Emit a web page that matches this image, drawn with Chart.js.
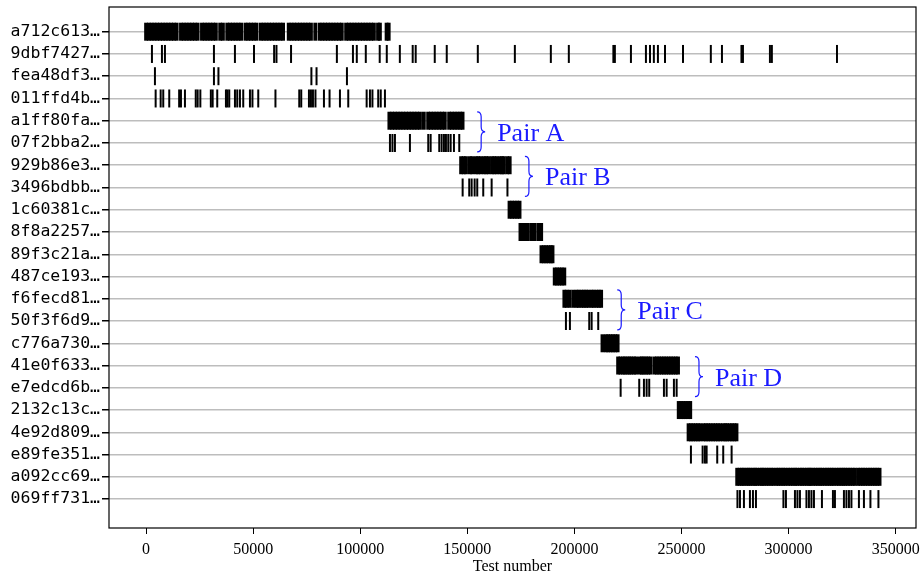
<!DOCTYPE html>
<html>
<head>
<meta charset="utf-8">
<script src="https://cdn.jsdelivr.net/npm/chart.js@4.4.1/dist/chart.umd.min.js"></script>
<style>
  body { margin: 0; background: #fff; }
</style>
</head>
<body>
<canvas id="chart" width="921" height="575"></canvas>
<script>
const rowLabels = ["a712c613…", "9dbf7427…", "fea48df3…", "011ffd4b…", "a1ff80fa…", "07f2bba2…",
    "929b86e3…", "3496bdbb…", "1c60381c…", "8f8a2257…", "89f3c21a…", "487ce193…", "f6fecd81…",
    "50f3f6d9…", "c776a730…", "41e0f633…", "e7edcd6b…", "2132c13c…", "4e92d809…", "e89fe351…",
    "a092cc69…", "069ff731…"];

const ev_a712c613 = [0, 1300, 2600, 3900, 5200, 6500, 7800, 9100, 10400, 11700, 13000, 14300, 16300, 17600,
    18900, 20200, 21500, 22800, 24100, 26100, 27400, 28700, 30000, 31300, 32600, 34600, 35900, 37900, 39200,
    40500, 41800, 43100, 44400, 46400, 47700, 49000, 50300, 51600, 53600, 54900, 56200, 57500, 58800, 60100,
    61400, 62700, 64000, 66600, 67900, 69200, 70500, 71800, 73100, 74400, 75700, 77000, 79000, 81000, 82300,
    83600, 84900, 86200, 87500, 88800, 90100, 91400, 93400, 94700, 96000, 97300, 98600, 99900, 101200,
    102500, 103800, 105100, 106400, 108300, 109200, 112300, 113300];
const ev_9dbf7427 = [2750, 7420, 8820, 31700, 41500, 50400, 59800, 60900, 67700, 89100, 96600, 98400, 102600,
    109100, 112400, 118500, 124500, 125900, 134800, 140400, 154900, 172200, 189000, 197400, 218200, 218900,
    226400, 233400, 235300, 237100, 239000, 242300, 250700, 263700, 268900, 278000, 278700, 291300, 292200,
    322600];
const ev_fea48df3 = [4150, 31700, 33800, 77200, 79600, 93800];
const ev_011ffd4b = [4480, 6820, 8030, 10830, 15450, 16300, 18160, 23200, 24090, 25350, 30250, 31100, 33240,
    37300, 38000, 38850, 41510, 42580, 43840, 45380, 48510, 49680, 52390, 60420, 71530, 72460, 76060, 77000,
    77930, 79100, 83060, 85680, 90530, 94410, 103000, 104540, 105700, 108400, 109580, 111540];
const ev_a1ff80fa = [113600, 114900, 116200, 117500, 118800, 120100, 121400, 122700, 124000, 125300, 126600,
    127900, 129700, 131700, 133000, 134300, 135600, 136900, 138200, 139500, 141500, 142800, 144100, 145400,
    146700, 147800];
const ev_07f2bba2 = [113880, 115050, 116210, 123210, 131760, 132880, 136900, 138010, 139090, 140020, 141100,
    142220, 143760, 146240];
const ev_929b86e3 = [147100, 148300, 149400, 151200, 152300, 154000, 155100, 156200, 157700, 158800, 159900,
    161500, 162600, 163700, 165100, 166200, 167000, 168600, 169800];
const ev_3496bdbb = [147820, 150900, 152020, 153420, 154640, 157440, 161360, 168740];
const ev_1c60381c = [169700, 170900, 172100, 173300, 174400];
const ev_8f8a2257 = [174800, 175900, 177000, 178100, 179800, 180600, 181500, 183300, 184500];
const ev_89f3c21a = [184600, 185700, 186800, 187900, 189000, 189800];
const ev_487ce193 = [190800, 191900, 193000, 194100, 195300];
const ev_f6fecd81 = [195300, 196400, 197800, 199500, 201000, 202000, 203300, 204400, 205500, 206600, 208000,
    209000, 210300, 211400, 212500];
const ev_50f3f6d9 = [196050, 197910, 206930, 208050, 211130];
const ev_c776a730 = [213100, 214700, 215800, 216900, 218000, 219100, 220200];
const ev_41e0f633 = [220400, 221500, 222700, 223600, 224700, 225700, 226600, 227800, 228800, 230500, 231500,
    232400, 233500, 234500, 235600, 237400, 238500, 239600, 240700, 241800, 242900, 244000, 245100, 246200,
    247300, 248400];
const ev_e7edcd6b = [221590, 230270, 232470, 233730, 234940, 241810, 243070, 246470, 247740];
const ev_2132c13c = [248700, 249800, 250900, 252000, 253100, 254100];
const ev_4e92d809 = [253300, 254400, 255500, 256600, 257700, 258800, 260300, 261400, 262500, 263600, 264800,
    265900, 267000, 268100, 269400, 270500, 271300, 272500, 273600, 274700, 275700];
const ev_e89fe351 = [254410, 259870, 260950, 261740, 266690, 269490, 273410];
const ev_a092cc69 = [276000, 277100, 278200, 279100, 280300, 281300, 282200, 283400, 284400, 285300, 286600,
    287600, 288500, 289700, 290700, 291900, 292900, 294300, 295300, 296400, 297500, 298500, 299800, 300900,
    302000, 303100, 304000, 305300, 306300, 307400, 308500, 309600, 310300, 311500, 312600, 313700, 314800,
    315700, 316900, 318000, 319100, 320100, 321100, 322400, 323500, 324600, 325600, 326500, 327700, 328800,
    329900, 331000, 332500, 333600, 334700, 335800, 337000, 338100, 339200, 340300, 341400, 342500];
const ev_069ff731 = [276130, 277300, 279160, 281960, 283370, 284770, 297600, 298770, 302980, 304140, 305310,
    308350, 309510, 310680, 311850, 315580, 320720, 321650, 325850, 327020, 328190, 329350, 332850, 335190,
    338220, 341960];

const rowEvents = [ev_a712c613, ev_9dbf7427, ev_fea48df3, ev_011ffd4b, ev_a1ff80fa, ev_07f2bba2, ev_929b86e3,
    ev_3496bdbb, ev_1c60381c, ev_8f8a2257, ev_89f3c21a, ev_487ce193, ev_f6fecd81, ev_50f3f6d9, ev_c776a730,
    ev_41e0f633, ev_e7edcd6b, ev_2132c13c, ev_4e92d809, ev_e89fe351, ev_a092cc69, ev_069ff731];

const xTickValues = [0, 50000, 100000, 150000, 200000, 250000, 300000, 350000];

const pairNames = ["Pair A", "Pair B", "Pair C", "Pair D"];
const pairFirstRow = [4, 6, 12, 15];
const pairX = [154600, 176900, 220000, 256300];

// rows whose events are packed into solid blocks get a heavier stroke
const denseRows = [0, 4, 6, 8, 9, 10, 11, 12, 14, 15, 17, 18, 20];
const LINE_HALF = 0.4;

const datasets = rowEvents.map((events, row) => ({
    label: rowLabels[row],
    data: events.map((v) => ({ x: v, y: row })),
    pointStyle: "line",
    rotation: 90,
    radius: 9,
    borderColor: "#000",
    backgroundColor: "#000",
    borderWidth: denseRows.includes(row) ? 3.8 : 2,
}));

const pairsPlugin = {
    id: "pairs",
    afterDatasetsDraw(chart) {
        const { ctx, scales: { x, y } } = chart;
        ctx.save();
        ctx.strokeStyle = "#1a1aff";
        ctx.fillStyle = "#1a1aff";
        ctx.lineWidth = 1.2;
        ctx.font = "26px 'Liberation Serif'";
        ctx.textBaseline = "alphabetic";
        pairNames.forEach((name, i) => {
            const x0 = x.getPixelForValue(pairX[i]);
            const top = y.getPixelForValue(pairFirstRow[i] - LINE_HALF);
            const bot = y.getPixelForValue(pairFirstRow[i] + 1 + LINE_HALF);
            const mid = (top + bot) / 2;
            ctx.beginPath();
            ctx.moveTo(x0, top);
            ctx.quadraticCurveTo(x0 + 4, top, x0 + 4, top + 5);
            ctx.lineTo(x0 + 4, mid - 5);
            ctx.quadraticCurveTo(x0 + 4, mid, x0 + 8, mid);
            ctx.quadraticCurveTo(x0 + 4, mid, x0 + 4, mid + 5);
            ctx.lineTo(x0 + 4, bot - 5);
            ctx.quadraticCurveTo(x0 + 4, bot, x0, bot);
            ctx.stroke();
            ctx.fillText(name, x0 + 20, mid + 9);
        });
        ctx.restore();
    },
    afterDraw(chart) {
        const { ctx, chartArea: a } = chart;
        ctx.save();
        ctx.strokeStyle = "#000";
        ctx.lineWidth = 1.2;
        ctx.strokeRect(a.left, a.top, a.right - a.left, a.bottom - a.top);
        ctx.restore();
    },
};

new Chart(document.getElementById("chart"), {
    type: "scatter",
    data: { datasets },
    plugins: [pairsPlugin],
    options: {
        responsive: false,
        animation: false,
        devicePixelRatio: 1,
        events: [],
        layout: { autoPadding: false, padding: { top: 7, right: 5, left: 0, bottom: 0 } },
        plugins: { legend: { display: false }, tooltip: { enabled: false } },
        scales: {
            x: {
                type: "linear",
                min: -17300,
                max: 359500,
                afterFit: (s) => { s.height = 47; s.paddingLeft = 0; s.paddingRight = 0; },
                afterBuildTicks: (s) => { s.ticks = xTickValues.map((v) => ({ value: v })); },
                grid: { drawOnChartArea: false, tickColor: "#000", tickLength: 6, lineWidth: 1 },
                border: { display: false },
                ticks: {
                    color: "#000",
                    padding: 6,
                    maxRotation: 0,
                    font: { family: "'Liberation Serif'", size: 16 },
                    callback: (v) => String(v),
                },
                title: {
                    display: true,
                    text: "Test number",
                    color: "#000",
                    padding: { top: 0, bottom: 0 },
                    font: { family: "'Liberation Serif'", size: 16, lineHeight: 1 },
                },
            },
            y: {
                type: "linear",
                reverse: true,
                min: -1.11,
                max: 22.3,
                afterFit: (s) => { s.width = 109; s.paddingTop = 0; s.paddingBottom = 0; },
                afterBuildTicks: (s) => { s.ticks = rowLabels.map((_, i) => ({ value: i })); },
                grid: { color: "#bdbdbd", lineWidth: 1.5, tickColor: "#000", tickLength: 7 },
                border: { display: false },
                ticks: {
                    color: "#000",
                    padding: 2,
                    font: { family: "'DejaVu Sans Mono'", size: 16.5 },
                    callback: (v) => rowLabels[v],
                },
            },
        },
    },
});
</script>
</body>
</html>
